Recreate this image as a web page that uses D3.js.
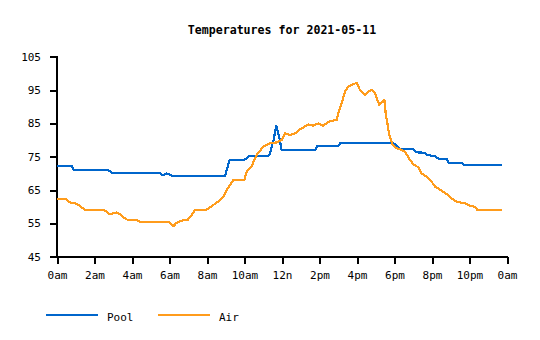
<!DOCTYPE html>
<html><head><meta charset="utf-8">
<script src="https://cdnjs.cloudflare.com/ajax/libs/d3/7.8.5/d3.min.js"></script>
<style>
html,body{margin:0;padding:0;background:#fff;}
svg{display:block;}
text{font-family:"DejaVu Sans Mono","Liberation Mono",monospace;fill:#000;}
</style></head>
<body><svg id="chart" width="540" height="340"></svg>
<script>
const title = "Temperatures for 2021-05-11";
const seriesNames = ["Pool", "Air"];
const seriesColors = ["#0066cc", "#ff9c1c"];
const xTickHours = [0, 2, 4, 6, 8, 10, 12, 14, 16, 18, 20, 22, 24];
const xTickLabels = ["0am","2am","4am","6am","8am","10am","12n","2pm","4pm","6pm","8pm","10pm","0am"];
const yTicks = [45, 55, 65, 75, 85, 95, 105];

// time in decimal hours, temperature in °F
const poolHours = [0,0.78,0.9,2.72,2.95,5.5,5.65,5.85,6.0,6.2,8.96,9.2,9.98,10.24,11.25,11.36,11.55,11.7,11.85,11.98,13.76,13.9,15.0,15.13,17.85,18.1,18.3,19.0,19.2,19.6,19.75,20.0,20.2,20.4,20.8,20.9,21.6,21.75,23.73];
const poolTemps = [72.2,72.2,71,71,70.1,70.1,69.4,70,69.6,69.2,69.2,74,74,75.1,75.1,76,80,84.3,81,77,77,78.3,78.3,79.2,79.2,78.5,77.2,77.2,76.3,76.2,75.5,75.3,75,74.2,74.2,73.2,73.2,72.4,72.4];

const airHours = [0,0.48,0.69,0.96,1.14,1.32,1.49,2.47,2.65,2.83,3.0,3.18,3.36,3.63,3.75,4.25,4.43,5.99,6.2,6.38,6.74,6.97,7.18,7.36,7.93,8.16,8.46,8.69,8.87,9.05,9.23,9.4,9.99,10.12,10.38,10.65,11.0,11.36,11.72,11.98,12.16,12.43,12.69,12.96,13.4,13.67,13.94,14.2,14.56,14.92,15.0,15.18,15.36,15.54,15.8,15.98,16.16,16.43,16.6,16.78,16.96,17.19,17.32,17.46,17.53,17.62,17.72,17.9,18.12,18.38,18.56,18.83,19.0,19.27,19.45,19.72,19.98,20.16,20.52,20.78,21.05,21.32,21.76,22.03,22.29,22.42,23.73];
const airTemps = [62.2,62.2,61.3,61,60.5,59.8,59,59,58.5,57.7,58,58.3,57.7,56.5,56.1,56.1,55.4,55.4,54.1,55.2,56,56,57.5,59,59,59.8,61,62,63,65,66.5,68,68,70.5,72.2,75.5,78,79,79.3,80,82,81.5,82,83.2,84.7,84.3,85,84.3,85.7,86,88,91,94.5,96,96.7,97.2,95,93.5,94.5,95,94,90.5,91.3,92,88,85,81.5,78.5,77.5,77,76.5,74,72.8,71.8,70,69,67.5,66,64.8,63.8,62.5,61.5,61,60.2,60,59,59];

const svg = d3.select("#chart");
const x = d3.scaleLinear().domain([0, 24]).range([57, 507]);
const y = d3.scaleLinear().domain([45, 105]).range([256.7, 56.7]);

// axes
const gx = svg.append("g").attr("transform", "translate(0,256.7)")
  .call(d3.axisBottom(x).tickValues(xTickHours).tickFormat((d,i)=>xTickLabels[i]).tickSizeOuter(0).tickSize(7).tickPadding(8));
const gy = svg.append("g").attr("transform", "translate(57,0)")
  .call(d3.axisLeft(y).tickValues(yTicks).tickFormat(d3.format("d")).tickSizeOuter(0).tickSize(7).tickPadding(9));
[gx, gy].forEach(g => {
  g.selectAll("path.domain").attr("stroke", "#000").attr("stroke-width", 2).attr("shape-rendering", "crispEdges");
  g.selectAll(".tick line").attr("stroke", "#000").attr("stroke-width", 2).attr("shape-rendering", "crispEdges");
  g.selectAll(".tick text").attr("font-size", 11).attr("font-family", "DejaVu Sans Mono, monospace").attr("fill", "#000");
});
gx.selectAll("path.domain").attr("d", `M${x(0)-1},0H${x(24)+1}`);
gy.selectAll("path.domain").attr("d", `M0,${y(45)+1}V${y(105)-1}`);

// lines
const series = [
  {name: seriesNames[0], color: seriesColors[0], pts: poolHours.map((h,i)=>[h, poolTemps[i]])},
  {name: seriesNames[1], color: seriesColors[1], pts: airHours.map((h,i)=>[h, airTemps[i]])}
];
const line = d3.line().x(d=>x(d[0])).y(d=>y(d[1]));
series.forEach(s => {
  svg.append("path").attr("d", line(s.pts)).attr("fill", "none")
    .attr("stroke", s.color).attr("stroke-width", 2.2).attr("stroke-linejoin", "round")
    .attr("shape-rendering", "crispEdges");
});

// title
svg.append("text").attr("x", 282).attr("y", 34).attr("text-anchor", "middle")
  .attr("font-size", 11.6).attr("font-weight", "bold").text(title);

// legend
const leg = svg.append("g");
series.forEach((s, i) => {
  const lx = 46 + i * 112;
  leg.append("line").attr("x1", lx).attr("x2", lx + 52).attr("y1", 315).attr("y2", 315)
    .attr("stroke", s.color).attr("stroke-width", 2).attr("shape-rendering", "crispEdges");
  leg.append("text").attr("x", lx + 61).attr("y", 321).attr("font-size", 11).text(s.name);
});
</script>
</body></html>
